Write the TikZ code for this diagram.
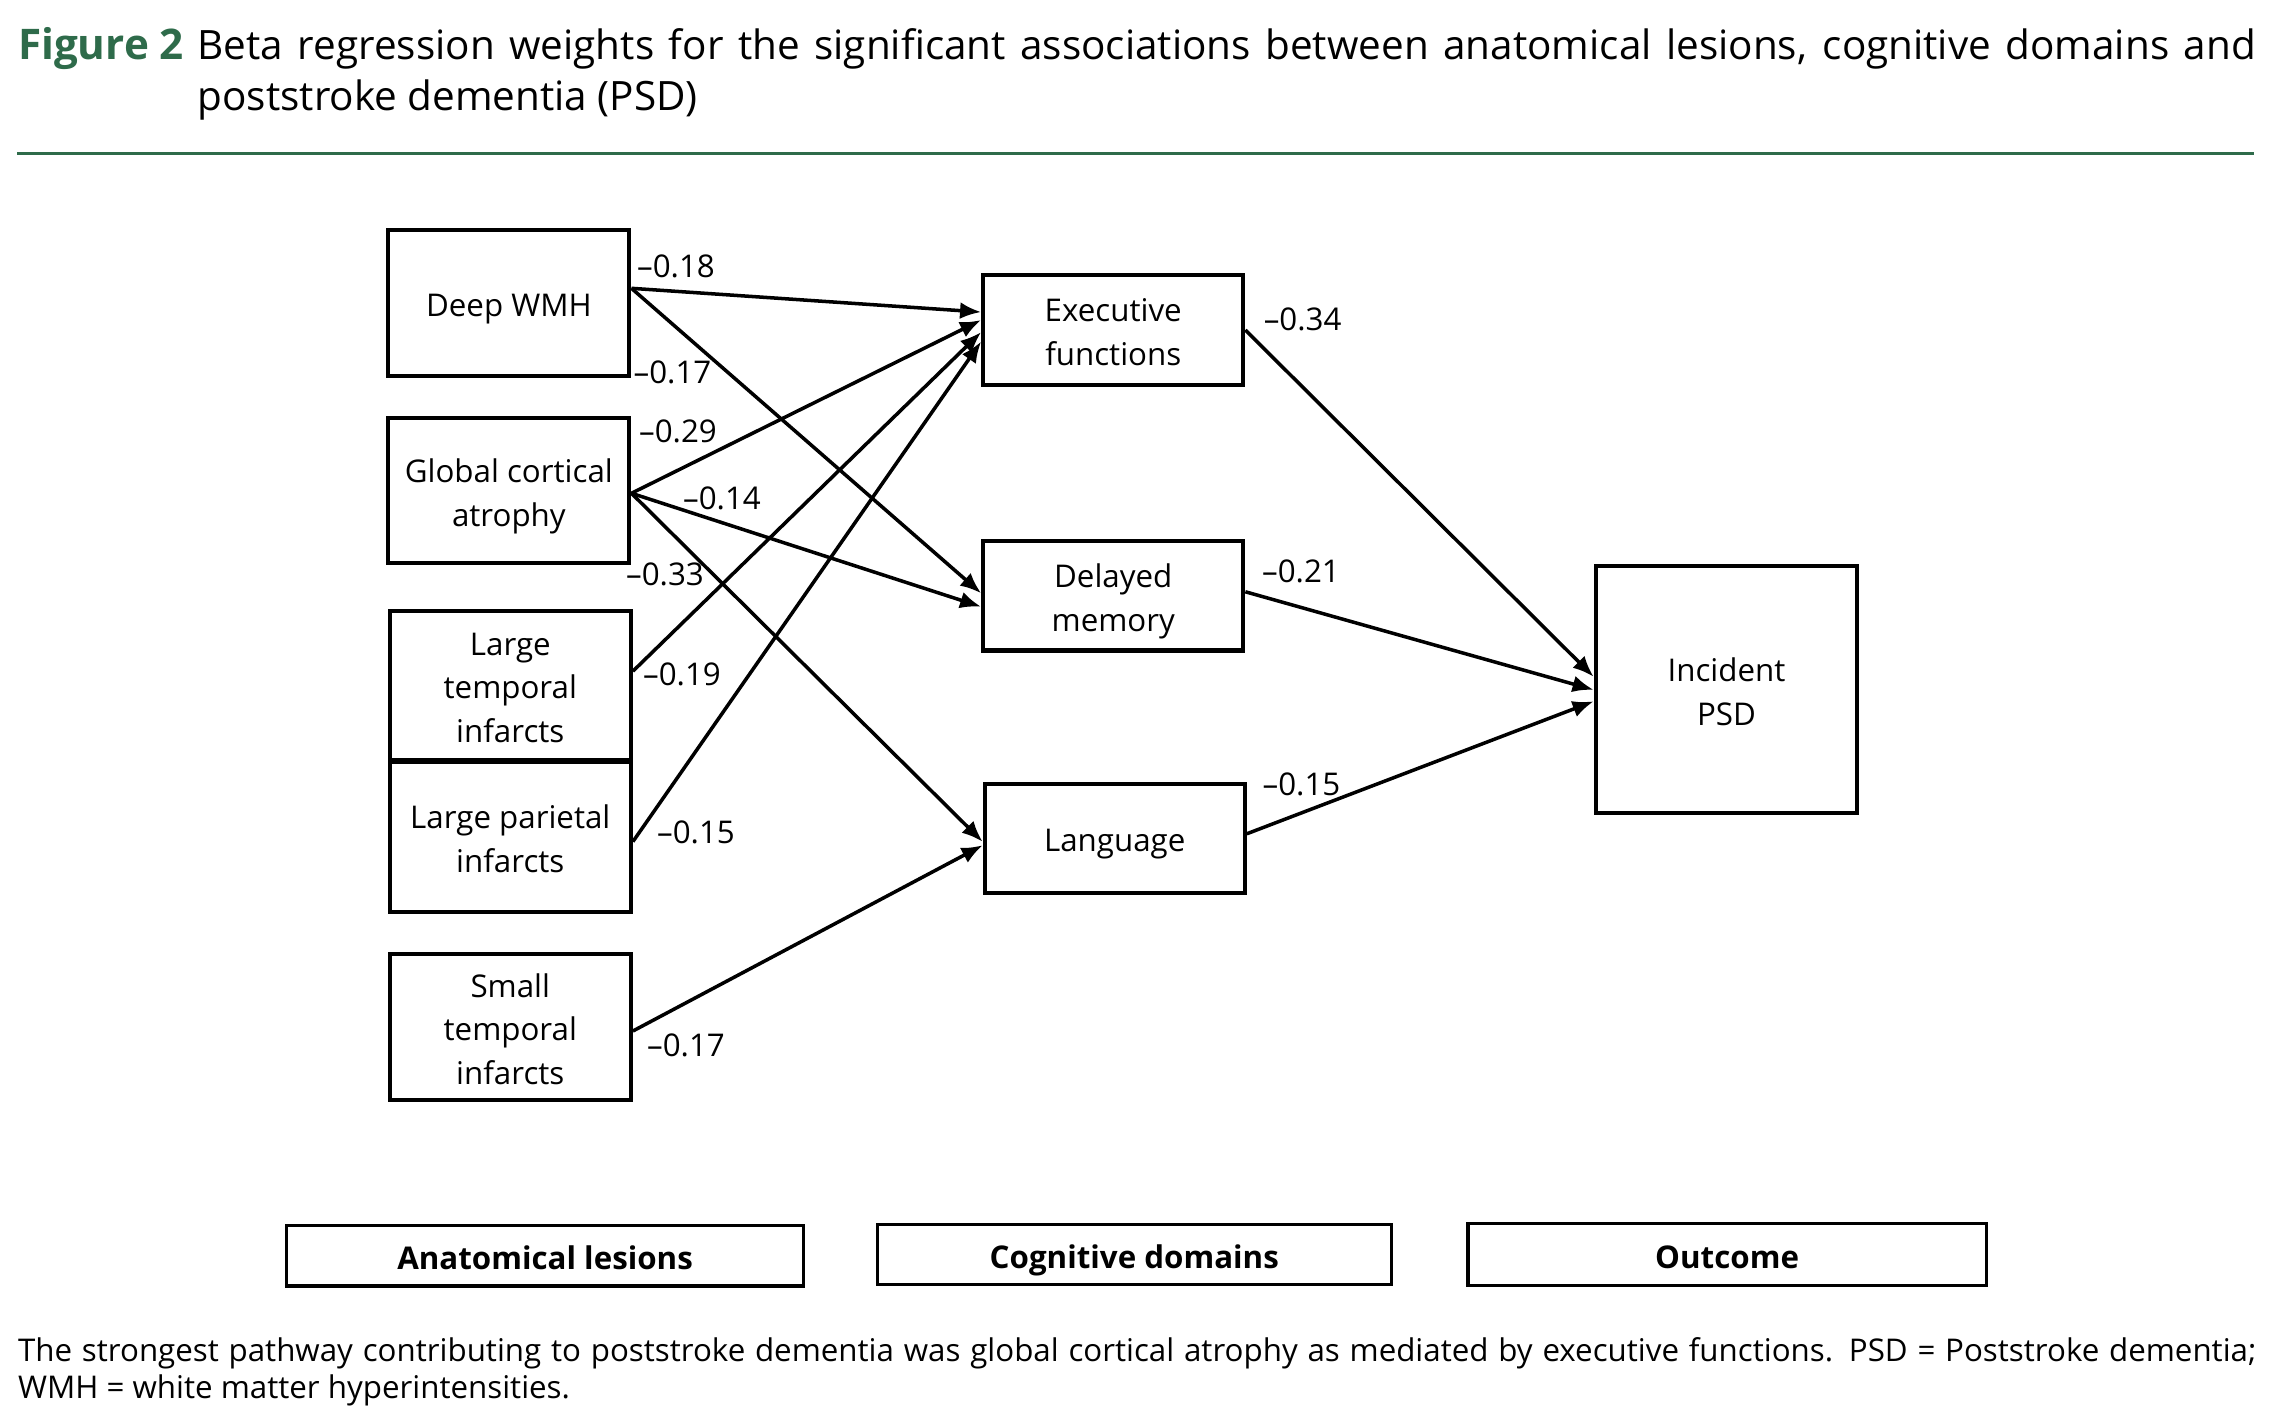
\documentclass[tikz,border=0pt]{standalone}
\usepackage{fontspec}
\setmainfont{Open Sans}
\usetikzlibrary{arrows.meta}
\definecolor{figgreen}{RGB}{46,107,74}
% struts that set where the text sits in a box (1, 2 or 3 lines)
\newcommand{\boxstrut}[1]{\rule[-3pt]{0pt}{#1}}
\newcommand{\legstrut}{\rule[-2.5pt]{0pt}{12.8pt}}

\begin{document}
\begin{tikzpicture}[x=0.01cm, y=-0.01cm,
    lesion/.style={draw, line width=1.15pt, minimum width=2.41cm, minimum height=1.46cm,
      align=center, inner sep=0, font=\fontsize{8.9}{12.4}\selectfont,
      execute at begin node=\boxstrut{13.7pt}},
    twoline/.style={execute at begin node=\boxstrut{26.1pt}},
    threeline/.style={execute at begin node=\boxstrut{38.5pt}},
    cogbox/.style={lesion, minimum width=2.6cm, minimum height=1.094cm},
    legendbox/.style={draw, line width=0.9pt, minimum width=5.16cm, minimum height=0.6cm,
      inner sep=0, font=\fontsize{8.9}{10}\selectfont\bfseries,
      execute at begin node=\legstrut},
    wlab/.style={inner sep=0, font=\fontsize{8.9}{10}\selectfont},
    wt/.style={line width=1pt, -{Latex[length=6pt,width=4.8pt]}}]
  \useasboundingbox (0,0) rectangle (2270,1414);

  % Heading
  \node[anchor=base west, inner sep=0, text=figgreen, font=\fontsize{12}{14.4}\selectfont\bfseries]
    (figno) at (17.4,59.4) {Figure 2};
  \node[anchor=base west, inner sep=0, align=left, font=\fontsize{11.5}{14.4}\selectfont]
    (title) at (197,110) {\makebox[20.57cm][s]{Beta regression weights for the significant associations between anatomical lesions, cognitive domains and}\\
    poststroke dementia (PSD)};
  \draw[figgreen, line width=1pt] (17.4,153.5) -- (2254,153.5);

  % Anatomical lesions
  \node[lesion] (dwmh) at (508.85,303.3) {Deep WMH};
  \node[lesion, twoline, minimum height=1.445cm] (gca) at (508.85,490.75) {Global cortical\\atrophy};
  \node[lesion, threeline, minimum height=1.482cm] (lti) at (510.3,685.4) {Large\\temporal\\infarcts};
  \node[lesion, twoline, minimum height=1.5cm] (lpi) at (510.3,837) {Large parietal\\infarcts};
  \node[lesion, threeline] (sti) at (510.3,1027.1) {Small\\temporal\\infarcts};

  % Cognitive domains
  \node[cogbox, twoline] (exf) at (1113.25,330.05) {Executive\\functions};
  \node[cogbox, twoline] (dmem) at (1113.25,595.75) {Delayed\\memory};
  \node[cogbox] (lang) at (1114.75,838.25) {Language};

  % Outcome
  \node[lesion, twoline, minimum width=2.615cm, minimum height=2.469cm] (psd) at (1726.5,689.8) {Incident\\PSD};

  % Lesion -> domain paths
  \draw[wt] ([yshift=0.15cm]dwmh.east) -- ([yshift=0.18cm]exf.west);
  \draw[wt] ([yshift=0.15cm]dwmh.east) -- ([yshift=0.025cm]dmem.west);
  \draw[wt] ([yshift=-0.025cm]gca.east) -- ([yshift=0.10cm]exf.west);
  \draw[wt] ([yshift=-0.025cm]gca.east) -- ([yshift=-0.11cm]dmem.west);
  \draw[wt] ([yshift=-0.025cm]gca.east) -- ([yshift=-0.035cm]lang.west);
  \draw[wt] ([yshift=0.142cm]lti.east) -- ([yshift=-0.02cm]exf.west);
  \draw[wt] ([yshift=-0.046cm]lpi.east) -- ([yshift=-0.115cm]exf.west);
  \draw[wt] ([yshift=-0.039cm]sti.east) -- ([yshift=-0.07cm]lang.west);

  % Domain -> outcome paths
  \draw[wt] (exf.east) -- ([yshift=0.13cm]psd.west);
  \draw[wt] ([yshift=0.04cm]dmem.east) -- (psd.west);
  \draw[wt] ([yshift=0.045cm]lang.east) -- ([yshift=-0.115cm]psd.west);

  % Beta weights
  \node[wlab] (b1) at (676,266) {--0.18};
  \node[wlab] (b2) at (672.5,372.5) {--0.17};
  \node[wlab] (b3) at (678,431) {--0.29};
  \node[wlab] (b4) at (722,498) {--0.14};
  \node[wlab] (b5) at (665,574) {--0.33};
  \node[wlab] (b6) at (682,674) {--0.19};
  \node[wlab] (b7) at (696,832) {--0.15};
  \node[wlab] (b8) at (686,1045) {--0.17};
  \node[wlab] (b9) at (1302.6,319.4) {--0.34};
  \node[wlab] (b10) at (1301,571) {--0.21};
  \node[wlab] (b11) at (1301.5,784) {--0.15};

  % Legend
  \node[legendbox, minimum width=5.17cm] (leg1) at (545.1,1255.9) {Anatomical lesions};
  \node[legendbox, minimum width=5.14cm] (leg2) at (1134.3,1254.5) {Cognitive domains};
  \node[legendbox, minimum width=5.18cm, minimum height=0.623cm] (leg3) at (1727.1,1254.5) {Outcome};

  % Caption
  \node[anchor=base west, inner sep=0, align=left, font=\fontsize{8.9}{10.4}\selectfont]
    (capt) at (17.4,1398.5) {\makebox[22.37cm][s]{The strongest pathway contributing to poststroke dementia was global cortical atrophy as mediated by executive functions. PSD = Poststroke dementia;}\\
    WMH = white matter hyperintensities.};
\end{tikzpicture}
\end{document}
